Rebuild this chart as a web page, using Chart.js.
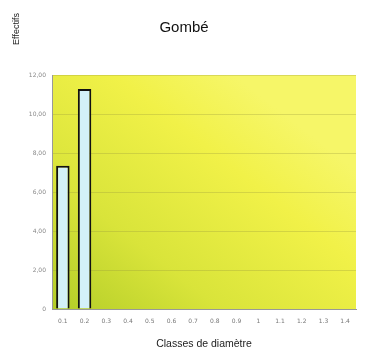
<!DOCTYPE html>
<html>
<head>
<meta charset="utf-8">
<script src="https://cdn.jsdelivr.net/npm/chart.js@4/dist/chart.umd.min.js"></script>
<style>
  html, body { margin: 0; padding: 0; background: #fff; }
  #wrap { width: 369px; height: 354px; }
</style>
</head>
<body>
<div id="wrap"><canvas id="gombeChart"></canvas></div>
<script>
// Données
const classes = ['0.1', '0.2', '0.3', '0.4', '0.5', '0.6', '0.7', '0.8', '0.9', '1', '1.1', '1.2', '1.3', '1.4'];
const effectifs = [7.35, 11.28, 0, 0, 0, 0, 0, 0, 0, 0, 0, 0, 0, 0];
const yTicks = [0, 2, 4, 6, 8, 10, 12];

// Fond dégradé jaune-vert de la zone de tracé + titres
const fondPlugin = {
    id: 'fond',
    beforeDraw(chart) {
        const { ctx, chartArea: a } = chart;
        const g = ctx.createLinearGradient(a.left, a.bottom, a.left + (a.right - a.left) * 0.6, a.top);
        g.addColorStop(0, '#b3cd28');
        g.addColorStop(0.35, '#d9e43a');
        g.addColorStop(0.75, '#f1f148');
        g.addColorStop(1, '#f6f668');
        ctx.save();
        ctx.fillStyle = g;
        ctx.fillRect(a.left, a.top, a.right - a.left, a.bottom - a.top);
        ctx.restore();
    },
    afterDraw(chart) {
        const ctx = chart.ctx;
        ctx.save();
        // titre principal
        ctx.font = '15px "Liberation Sans"';
        ctx.fillStyle = '#111';
        ctx.textAlign = 'center';
        ctx.textBaseline = 'middle';
        ctx.fillText('Gombé', 184, 28);
        // titre de l'axe Y, en haut à gauche
        ctx.translate(17, 29);
        ctx.rotate(-Math.PI / 2);
        ctx.font = '9px "Liberation Sans"';
        ctx.fillStyle = '#222';
        ctx.fillText('Effectifs', 0, 0);
        ctx.restore();
    }
};

const ctx = document.getElementById('gombeChart').getContext('2d');
new Chart(ctx, {
    type: 'bar',
    data: {
        labels: classes,
        datasets: [{
            label: 'Gombé',
            data: effectifs,
            backgroundColor: '#d3f1f8',
            borderColor: '#111',
            borderWidth: 2,
            categoryPercentage: 1,
            barPercentage: 0.62
        }]
    },
    options: {
        responsive: true,
        maintainAspectRatio: false,
        animation: false,
        layout: { padding: { left: 0, right: 13, top: 75, bottom: 0 } },
        plugins: {
            legend: { display: false },
            tooltip: { enabled: false },
            title: { display: false }
        },
        scales: {
            x: {
                grid: { display: false, drawTicks: false },
                border: { color: '#999', width: 1 },
                ticks: {
                    color: '#777',
                    font: { size: 6, family: 'DejaVu Sans' },
                    maxRotation: 0,
                    padding: 9
                },
                title: {
                    display: true,
                    text: 'Classes de diamètre',
                    color: '#222',
                    font: { size: 10.5, family: 'Liberation Sans' },
                    padding: { top: 4 }
                },
                afterFit(scale) { scale.height = 45; }
            },
            y: {
                min: 0,
                max: 12,
                afterBuildTicks(scale) {
                    scale.ticks = yTicks.map(v => ({ value: v }));
                },
                grid: { color: 'rgba(150,150,60,0.3)', drawTicks: false },
                border: { color: '#999', width: 1 },
                ticks: {
                    color: '#888',
                    font: { size: 6, family: 'DejaVu Sans' },
                    padding: 6,
                    callback: v => v === 0 ? '0' : v.toFixed(2).replace('.', ',')
                },
                afterFit(scale) { scale.width = 52; }
            }
        }
    },
    plugins: [fondPlugin]
});
</script>
</body>
</html>
